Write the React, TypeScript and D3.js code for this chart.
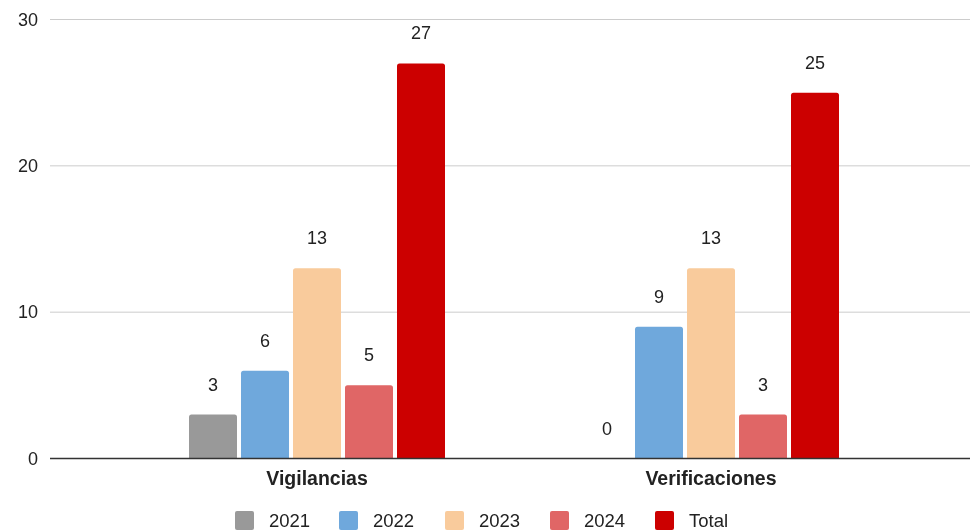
import React, { useEffect, useRef } from 'react';
import * as d3 from 'd3';

const categories = ['Vigilancias', 'Verificaciones'];
const seriesNames = ['2021', '2022', '2023', '2024', 'Total'];
const seriesColors = ['#999999', '#6fa8dc', '#f9cb9c', '#e06666', '#cc0000'];
const values2021 = [3, 0];
const values2022 = [6, 9];
const values2023 = [13, 13];
const values2024 = [5, 3];
const valuesTotal = [27, 25];
const yTicks = [0, 10, 20, 30];

const FONT = '"Liberation Sans", Arial, sans-serif';

const App: React.FC = () => {
  const ref = useRef<SVGSVGElement | null>(null);

  useEffect(() => {
    const width = 970;
    const height = 532;
    const series = [values2021, values2022, values2023, values2024, valuesTotal];

    const svg = d3.select(ref.current);
    svg.selectAll('*').remove();
    svg.attr('width', width).attr('height', height);

    const y = d3.scaleLinear().domain([0, 30]).range([458.5, 19.5]);
    const x0 = d3.scaleBand<string>().domain(categories).range([120, 908]);
    const x1 = d3.scaleBand<string>()
      .domain(seriesNames)
      .range([x0.bandwidth() / 2 - 128, x0.bandwidth() / 2 + 128])
      .paddingInner(0.077);

    // gridlines
    svg.append('g')
      .selectAll('line')
      .data(yTicks.filter(t => t > 0))
      .enter().append('line')
      .attr('x1', 50).attr('x2', 970)
      .attr('y1', d => y(d)).attr('y2', d => y(d))
      .attr('stroke', '#cccccc').attr('stroke-width', 1);

    // y tick labels
    svg.append('g')
      .selectAll('text')
      .data(yTicks)
      .enter().append('text')
      .attr('x', 38)
      .attr('y', d => y(d))
      .attr('dy', '0.35em')
      .attr('text-anchor', 'end')
      .attr('font-family', FONT)
      .attr('font-size', 18)
      .attr('fill', '#222222')
      .text(d => d);

    const rows = categories.flatMap((c, ci) =>
      seriesNames.map((s, si) => ({ cat: c, name: s, color: seriesColors[si], value: series[si][ci] }))
    );

    const groups = svg.append('g');

    // bars with slightly rounded tops
    groups.selectAll('path')
      .data(rows.filter(d => d.value > 0))
      .enter().append('path')
      .attr('d', d => {
        const bx = x0(d.cat)! + x1(d.name)!;
        const bw = x1.bandwidth();
        const top = y(d.value);
        const bottom = y(0);
        const r = 2.5;
        return `M${bx},${bottom}V${top + r}Q${bx},${top} ${bx + r},${top}H${bx + bw - r}Q${bx + bw},${top} ${bx + bw},${top + r}V${bottom}Z`;
      })
      .attr('fill', d => d.color);

    // value labels
    groups.selectAll('text')
      .data(rows)
      .enter().append('text')
      .attr('x', d => x0(d.cat)! + x1(d.name)! + x1.bandwidth() / 2)
      .attr('y', d => y(d.value) - 24)
      .attr('text-anchor', 'middle')
      .attr('font-family', FONT)
      .attr('font-size', 18)
      .attr('fill', '#222222')
      .text(d => d.value);

    // baseline
    svg.append('line')
      .attr('x1', 50).attr('x2', 970)
      .attr('y1', y(0)).attr('y2', y(0))
      .attr('stroke', '#333333').attr('stroke-width', 1.5);

    // category labels
    svg.append('g')
      .selectAll('text')
      .data(categories)
      .enter().append('text')
      .attr('x', d => x0(d)! + x0.bandwidth() / 2)
      .attr('y', 485)
      .attr('text-anchor', 'middle')
      .attr('font-family', FONT)
      .attr('font-size', 19.5)
      .attr('font-weight', 'bold')
      .attr('fill', '#222222')
      .text(d => d);

    // legend
    const legendX = [235, 339, 445, 550, 655];
    const legend = svg.append('g')
      .selectAll('g')
      .data(seriesNames)
      .enter().append('g')
      .attr('transform', (_d, i) => `translate(${legendX[i]},511)`);

    legend.append('rect')
      .attr('width', 19).attr('height', 19)
      .attr('rx', 2)
      .attr('fill', (_d, i) => seriesColors[i]);

    legend.append('text')
      .attr('x', 34)
      .attr('y', 10)
      .attr('dy', '0.35em')
      .attr('font-family', FONT)
      .attr('font-size', 18.5)
      .attr('fill', '#222222')
      .text(d => d);
  }, []);

  return (
    <div style={{ position: 'fixed', left: 0, top: 0 }}>
      <svg ref={ref}></svg>
    </div>
  );
};

export default App;
